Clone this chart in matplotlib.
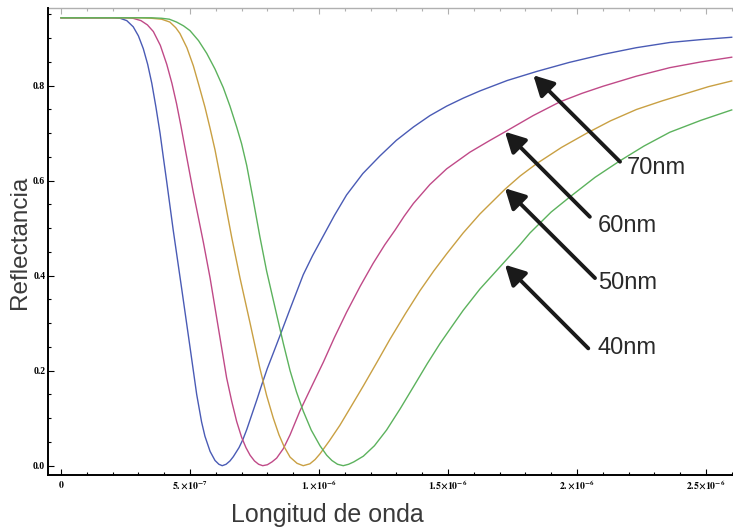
import numpy as np
import matplotlib
matplotlib.use("Agg")
import matplotlib.pyplot as plt
from matplotlib.ticker import MultipleLocator

# reflectance vs wavelength (wavelength in micrometres)
wl_70 = [0, 0.20, 0.229, 0.255, 0.280, 0.300, 0.319, 0.336, 0.352, 0.368, 0.384, 0.397,
         0.410, 0.435, 0.468, 0.500, 0.526, 0.545, 0.558, 0.578, 0.597, 0.612, 0.625,
         0.640, 0.655, 0.668, 0.690, 0.705, 0.720, 0.740, 0.760, 0.778, 0.800, 0.825,
         0.849, 0.888, 0.939, 0.975, 1.010, 1.060, 1.107, 1.170, 1.236, 1.300, 1.366,
         1.430, 1.495, 1.560, 1.624, 1.730, 1.844, 1.970, 2.102, 2.230, 2.360, 2.480, 2.600]
r_70 = [0.943, 0.943, 0.942, 0.937, 0.924, 0.905, 0.878, 0.845, 0.805, 0.755, 0.700, 0.648,
        0.597, 0.496, 0.372, 0.250, 0.150, 0.092, 0.062, 0.030, 0.011, 0.003, 0.000,
        0.003, 0.010, 0.019, 0.038, 0.055, 0.076, 0.108, 0.140, 0.170, 0.205, 0.240,
        0.274, 0.330, 0.402, 0.442, 0.477, 0.527, 0.570, 0.615, 0.652, 0.685, 0.713,
        0.737, 0.757, 0.774, 0.789, 0.811, 0.830, 0.849, 0.866, 0.880, 0.891, 0.897, 0.902]

wl_60 = [0, 0.25, 0.279, 0.310, 0.335, 0.358, 0.385, 0.410, 0.430, 0.448, 0.465, 0.481,
         0.513, 0.552, 0.578, 0.610, 0.642, 0.662, 0.681, 0.700, 0.717, 0.733, 0.750,
         0.766, 0.782, 0.800, 0.818, 0.836, 0.862, 0.888, 0.926, 0.970, 1.017, 1.060,
         1.107, 1.160, 1.210, 1.255, 1.295, 1.330, 1.366, 1.430, 1.495, 1.585, 1.660,
         1.728, 1.830, 1.934, 2.020, 2.102, 2.230, 2.360, 2.480, 2.600]
r_60 = [0.943, 0.943, 0.942, 0.937, 0.928, 0.914, 0.885, 0.845, 0.805, 0.762, 0.715, 0.668,
        0.575, 0.470, 0.395, 0.290, 0.185, 0.135, 0.093, 0.060, 0.038, 0.022, 0.010,
        0.003, 0.000, 0.002, 0.008, 0.016, 0.036, 0.065, 0.115, 0.165, 0.218, 0.270,
        0.323, 0.378, 0.426, 0.465, 0.496, 0.525, 0.552, 0.592, 0.625, 0.660, 0.684,
        0.705, 0.737, 0.766, 0.784, 0.799, 0.820, 0.838, 0.850, 0.860]

wl_50 = [0, 0.30, 0.35, 0.39, 0.422, 0.445, 0.461, 0.488, 0.513, 0.535, 0.558, 0.578,
         0.597, 0.629, 0.662, 0.694, 0.733, 0.771, 0.797, 0.823, 0.845, 0.865, 0.888,
         0.915, 0.939, 0.965, 0.985, 1.004, 1.040, 1.081, 1.125, 1.172, 1.225, 1.275,
         1.335, 1.391, 1.445, 1.495, 1.559, 1.624, 1.721, 1.780, 1.844, 1.940, 2.038,
         2.130, 2.231, 2.330, 2.426, 2.510, 2.600]
r_50 = [0.943, 0.943, 0.942, 0.940, 0.934, 0.922, 0.910, 0.880, 0.842, 0.800, 0.755, 0.710,
        0.665, 0.575, 0.480, 0.395, 0.300, 0.205, 0.148, 0.100, 0.065, 0.040, 0.018,
        0.005, 0.000, 0.004, 0.013, 0.025, 0.052, 0.085, 0.125, 0.168, 0.218, 0.266,
        0.320, 0.368, 0.410, 0.446, 0.490, 0.530, 0.582, 0.610, 0.636, 0.670, 0.700,
        0.726, 0.750, 0.768, 0.784, 0.798, 0.810]

wl_40 = [0, 0.35, 0.39, 0.420, 0.448, 0.475, 0.500, 0.533, 0.565, 0.597, 0.629, 0.655,
         0.681, 0.700, 0.720, 0.745, 0.771, 0.797, 0.836, 0.862, 0.888, 0.913, 0.939,
         0.970, 1.004, 1.030, 1.050, 1.072, 1.094, 1.115, 1.135, 1.172, 1.215, 1.262,
         1.315, 1.366, 1.420, 1.469, 1.515, 1.559, 1.624, 1.714, 1.779, 1.818, 1.900,
         1.973, 2.070, 2.167, 2.260, 2.360, 2.480, 2.600]
r_40 = [0.943, 0.943, 0.942, 0.940, 0.934, 0.926, 0.916, 0.895, 0.868, 0.835, 0.796, 0.757,
        0.713, 0.678, 0.632, 0.560, 0.482, 0.410, 0.318, 0.257, 0.200, 0.155, 0.115,
        0.075, 0.042, 0.022, 0.011, 0.003, 0.000, 0.003, 0.008, 0.020, 0.042, 0.075,
        0.120, 0.166, 0.215, 0.257, 0.293, 0.327, 0.372, 0.426, 0.465, 0.490, 0.534,
        0.566, 0.607, 0.642, 0.673, 0.702, 0.727, 0.749]

series = [(wl_70, r_70, "#4a5bb5"),
          (wl_60, r_60, "#c04a88"),
          (wl_50, r_50, "#c9a043"),
          (wl_40, r_40, "#5cb25d")]

labels = ["70nm", "60nm", "50nm", "40nm"]
# arrow head, arrow tail, text anchor (wavelength um, reflectance)
arrow_heads = [(1.831, 0.822), (1.721, 0.703), (1.721, 0.584), (1.721, 0.423)]
arrow_tails = [(2.167, 0.640), (2.050, 0.524), (2.070, 0.395), (2.044, 0.247)]
text_pos = [(2.193, 0.627), (2.081, 0.504), (2.081, 0.385), (2.081, 0.248)]

xtick_vals = [0, 5e-7, 1e-6, 1.5e-6, 2e-6, 2.5e-6]
xtick_labels = ["$0$", r"$5.{\times}10^{-7}$", r"$1.{\times}10^{-6}$",
                r"$1.5{\times}10^{-6}$", r"$2.{\times}10^{-6}$", r"$2.5{\times}10^{-6}$"]
ytick_vals = [0.0, 0.2, 0.4, 0.6, 0.8]
ytick_labels = ["0.0", "0.2", "0.4", "0.6", "0.8"]

plt.rcParams["mathtext.fontset"] = "stix"
plt.rcParams["mathtext.default"] = "bf"

W, H = 733, 529
fig = plt.figure(figsize=(W / 100, H / 100), dpi=100)
ax = fig.add_axes([48 / W, 54 / H, (W - 48) / W, 467 / H])

um = 1e-6
for wl, r, c in series:
    ax.plot(np.array(wl) * um, r, color=c, lw=1.0)

ax.set_xlim(-0.0504e-6, 2.605e-6)
ax.set_ylim(-0.0196, 0.9636)

ax.set_xticks(xtick_vals, xtick_labels)
ax.set_yticks(ytick_vals, ytick_labels, family="Liberation Serif", weight="bold")
ax.xaxis.set_minor_locator(MultipleLocator(1e-7))
ax.yaxis.set_minor_locator(MultipleLocator(0.05))
ax.tick_params(which="both", direction="in", width=0.8, color="black", labelsize=7)
ax.tick_params(which="major", length=4)
ax.tick_params(which="minor", length=2.5)
ax.tick_params(axis="y", pad=2)
ax.tick_params(axis="x", pad=3)

ax.spines["right"].set_visible(False)
ax.spines["top"].set_visible(False)
ax.spines["left"].set_linewidth(1.4)
ax.spines["bottom"].set_linewidth(1.4)

top = ax.secondary_xaxis("top")
top.set_xticks(xtick_vals)
top.xaxis.set_minor_locator(MultipleLocator(1e-7))
top.tick_params(which="both", direction="in", color="#b0b0b0", labeltop=False, width=0.8)
top.tick_params(which="major", length=4)
top.tick_params(which="minor", length=2.5)
top.spines["top"].set_color("#b0b0b0")
top.spines["top"].set_linewidth(1.0)

for lab, hd, tl, tp in zip(labels, arrow_heads, arrow_tails, text_pos):
    ax.annotate("", xy=(hd[0] * um, hd[1]), xytext=(tl[0] * um, tl[1]),
                arrowprops=dict(arrowstyle="-|>,head_length=0.75,head_width=0.4",
                                lw=2.8, color="#1a1a1a", shrinkA=0, shrinkB=0,
                                mutation_scale=16))
    ax.text(tp[0] * um, tp[1], lab, ha="left", va="center", fontsize=17,
            family="Liberation Sans", color="#2a2a2a")

fig.text(327 / W, (H - 522) / H, "Longitud de onda", ha="center", va="baseline",
         fontsize=18, family="Liberation Sans", color="#3a3a3a")
fig.text(26 / W, 1 - 242 / H, "Reflectancia", ha="center", va="baseline",
         rotation=90, rotation_mode="anchor", fontsize=17.5,
         family="Liberation Sans", color="#3a3a3a")

fig.savefig("out.png", dpi=100)
